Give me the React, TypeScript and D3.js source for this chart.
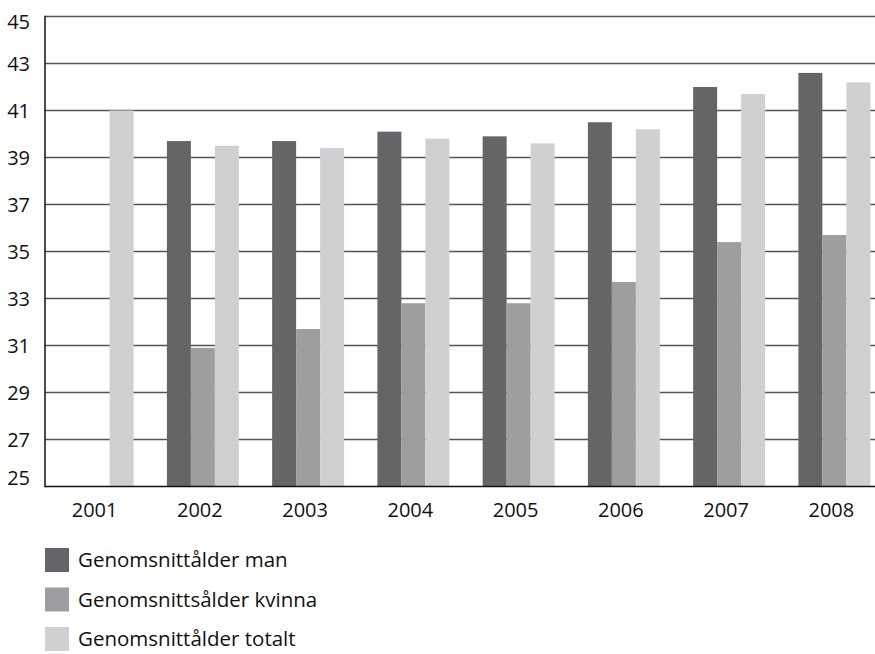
import React from "react";
import * as d3 from "d3";

const years = ["2001", "2002", "2003", "2004", "2005", "2006", "2007", "2008"];
const seriesNames = ["Genomsnittålder man", "Genomsnittsålder kvinna", "Genomsnittålder totalt"];
const manValues: (number | null)[] = [null, 39.7, 39.7, 40.1, 39.9, 40.5, 42.0, 42.6];
const kvinnaValues: (number | null)[] = [null, 30.9, 31.7, 32.8, 32.8, 33.7, 35.4, 35.7];
const totaltValues: (number | null)[] = [41.0, 39.5, 39.4, 39.8, 39.6, 40.2, 41.7, 42.2];
const yTicks = [25, 27, 29, 31, 33, 35, 37, 39, 41, 43, 45];
const colors = ["#646567", "#9d9ea0", "#cfd0d2"];

const W = 875;
const H = 654;
const left = 45;
const right = 887;
const top = 16.5;
const bottom = 486.5;
const FONT = "'Open Sans', 'DejaVu Sans', sans-serif";

export default function App() {
  const series = [manValues, kvinnaValues, totaltValues];
  const x = d3.scaleBand<string>().domain(years).range([left, right]).paddingInner(0.316).paddingOuter(0.158);
  const xi = d3.scaleBand<string>().domain(seriesNames).range([0, x.bandwidth()]);
  const y = d3.scaleLinear().domain([25, 45]).range([bottom, top]);

  return (
    <svg width={W} height={H} style={{ position: "absolute", left: 0, top: 0, background: "#fff" }} fontFamily={FONT}>
      {yTicks.filter((t) => t !== 25).map((t) => (
        <line key={"g" + t} x1={left} x2={right} y1={y(t)} y2={y(t)} stroke="#555" strokeWidth={1.5} />
      ))}
      {years.map((yr, i) => (
        <g key={yr} transform={`translate(${x(yr)},0)`}>
          {series.map((vals, s) => {
            const v = vals[i];
            if (v == null) return null;
            return (
              <rect key={s} x={xi(seriesNames[s])} width={xi.bandwidth()} y={y(v)} height={y(25) - y(v)} fill={colors[s]} />
            );
          })}
        </g>
      ))}
      <line x1={left} x2={left} y1={top - 0.75} y2={bottom + 0.75} stroke="#111" strokeWidth={1.5} />
      <line x1={left} x2={right} y1={bottom} y2={bottom} stroke="#111" strokeWidth={1.5} />
      {yTicks.map((t) => {
        const cy = Math.min(Math.max(y(t), 21.5), 478);
        return (
          <text key={"t" + t} x={30} y={cy} dy="0.35em" textAnchor="end" fontSize={20} fill="#111">
            {t}
          </text>
        );
      })}
      {years.map((yr) => (
        <text key={"x" + yr} x={(x(yr) as number) + x.bandwidth() / 2 - 3} y={517} textAnchor="middle" fontSize={20} fill="#111">
          {yr}
        </text>
      ))}
      {seriesNames.map((name, s) => (
        <g key={name} transform={`translate(45,${548 + s * 39.5})`}>
          <rect width={24} height={24} fill={colors[s]} />
          <text x={33} y={12} dy="0.35em" fontSize={20.5} fill="#111">
            {name}
          </text>
        </g>
      ))}
    </svg>
  );
}
